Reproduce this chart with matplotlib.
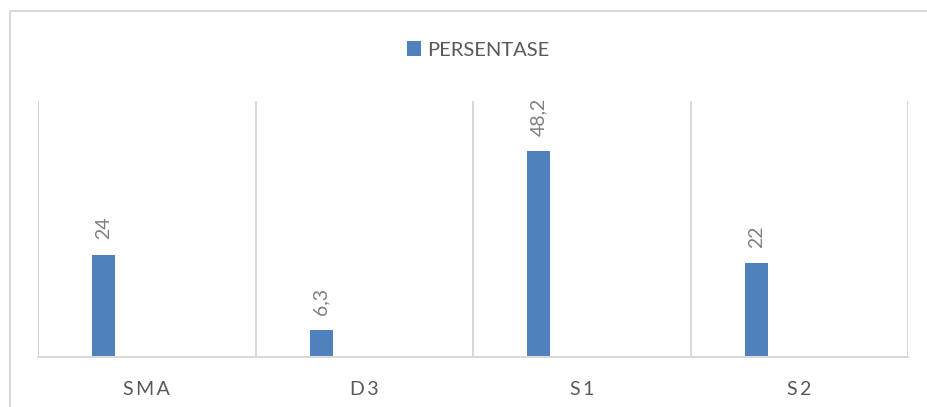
import matplotlib.pyplot as plt
import matplotlib.patches as mpatches
import numpy as np

kategori = ['S\u2009M\u2009A', 'D\u20093', 'S\u20091', 'S\u20092']
persentase = [24, 6.3, 48.2, 22]
label_nilai = ['24', '6,3', '48,2', '22']

biru = '#4f81bd'
abu_grid = '#d9d9d9'
abu_teks = '#595959'

plt.rcParams['font.family'] = ['Lato', 'DejaVu Sans']

fig = plt.figure(figsize=(9.27, 4.07), dpi=100)
ax = fig.add_axes([38 / 927, 50 / 407, 870 / 927, 256 / 407])

# Rahmen um das Diagramm (rechts/unten abgeschnitten)
fig.patches.append(mpatches.Rectangle((10 / 927, -0.1), 1.2, 1.1 - 11 / 407,
                                      transform=fig.transFigure, fill=False,
                                      edgecolor=abu_grid, linewidth=1.5))

x = np.arange(len(kategori))
posisi = x - 0.198
bars = ax.bar(posisi, persentase, width=0.105, color=biru, label='PERSENTASE')

for xi, yi, teks in zip(posisi, persentase, label_nilai):
    ax.annotate(teks, (xi, yi), xytext=(0, 11), textcoords='offset points',
                rotation=90, ha='center', va='bottom', fontsize=14, color='#7f7f7f')

for b in np.arange(-0.5, len(kategori), 1.0):
    ax.axvline(b, color=abu_grid, linewidth=1.5, zorder=0)

ax.set_xlim(-0.5, len(kategori) - 0.5)
ax.set_ylim(0, 60)
ax.set_xticks(x)
ax.set_xticklabels(kategori, fontsize=14, color=abu_teks)
ax.tick_params(axis='x', length=0, pad=17)
ax.set_yticks([])
for s in ['left', 'right', 'top']:
    ax.spines[s].set_visible(False)
ax.spines['bottom'].set_color(abu_grid)
ax.spines['bottom'].set_linewidth(1.5)

fig.legend(handles=[bars], loc='center', bbox_to_anchor=(478 / 927, 1 - 50 / 407),
           frameon=False, fontsize=14.5, labelcolor=abu_teks,
           handlelength=0.7, handleheight=0.7, handletextpad=0.3)

fig.savefig('out.png', dpi=100)
